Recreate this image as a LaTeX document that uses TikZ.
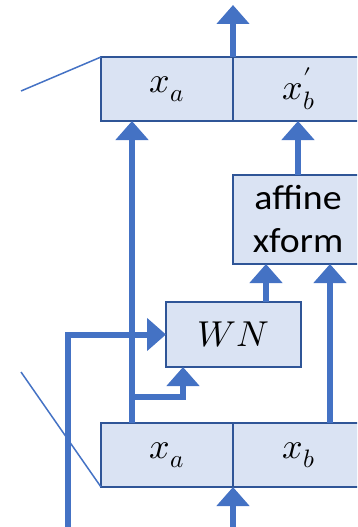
\documentclass[tikz,border=0pt]{standalone}
\usepackage{graphicx}
\usepackage{fontspec}
\usepackage{unicode-math}
\setmainfont{Carlito}
\setmathfont{Latin Modern Math}
\usetikzlibrary{arrows.meta}
\definecolor{lineblue}{HTML}{4472C4}
\definecolor{boxfill}{HTML}{DAE3F3}
\definecolor{boxline}{HTML}{2F5597}
\newcommand{\wide}[1]{\scalebox{1.08}[1]{#1}}
\begin{document}
\begin{tikzpicture}[x=1pt,y=-1pt,
  cell/.style={draw=boxline,line width=1.2pt,fill=boxfill,inner sep=0pt,outer sep=0pt,minimum width=132pt,minimum height=64pt,font=\fontsize{36}{36}\selectfont},
  arr/.style={draw=lineblue,line width=6pt,-{Triangle[width=32pt,length=19pt]}},
  diag/.style={draw=lineblue,line width=1.5pt}]
\useasboundingbox (0,0) rectangle (357,527);
\clip (0,0) rectangle (357,527);
% boxes
\node[cell] (ta) at (167,89) {$x_a$};
\node[cell] (tb) at (299,89) {$x'_b$};
\node[cell] (ba) at (167,455) {$x_a$};
\node[cell] (bb) at (299,455) {$x_b$};
\node[cell,minimum width=130pt,minimum height=89pt,align=center,font=\fontsize{35}{43}\selectfont] (aff) at (298,219.5) {\wide{affine}\\\wide{xform}};
\node[cell,minimum width=135pt,minimum height=65pt] (wn) at (233.5,334.5) {$WN$};
% free ends
\coordinate (out) at (233,5);
\coordinate (in1) at (68,527);
\coordinate (in2) at (233,527);
\coordinate (br) at (132,397);
\coordinate (d1) at (21,91);
\coordinate (d2) at (21,372);
% connectors
\draw[arr] (ta.north east) -- (out);
\draw[arr] (in2) -- (ba.south east);
\draw[arr] ([xshift=31pt]ba.north west) -- ([xshift=31pt]ta.south west);
\draw[arr] (aff.north) -- (aff.north |- tb.south);
\draw[arr] ([xshift=32.5pt]wn.north) -- ([xshift=32.5pt]wn.north |- aff.south);
\draw[arr] ([xshift=97pt]bb.north west) -- ([xshift=97pt]bb.north west |- aff.south);
\draw[arr] (in1) |- (wn.west);
\draw[arr] (br) -| ([xshift=-50.5pt]wn.south);
\draw[diag] (ta.north west) -- (d1);
\draw[diag] (ba.south west) -- (d2);
\end{tikzpicture}
\end{document}
